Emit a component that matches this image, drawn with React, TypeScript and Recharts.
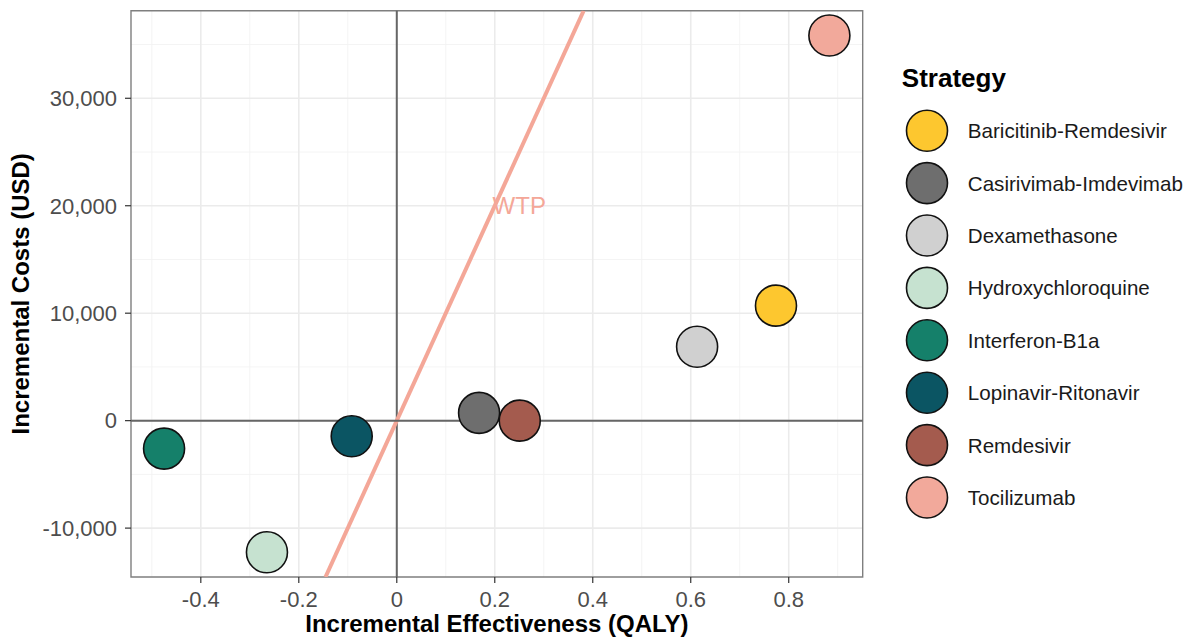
import React from "react";
import {
  ScatterChart,
  Scatter,
  XAxis,
  YAxis,
  CartesianGrid,
  ReferenceLine,
  ReferenceDot,
  ReferenceArea,
  Label,
} from "recharts";

const strategies = [
  "Baricitinib-Remdesivir",
  "Casirivimab-Imdevimab",
  "Dexamethasone",
  "Hydroxychloroquine",
  "Interferon-B1a",
  "Lopinavir-Ritonavir",
  "Remdesivir",
  "Tocilizumab",
];
const effectiveness = [0.774, 0.168, 0.613, -0.265, -0.475, -0.092, 0.251, 0.883];
const costs = [10700, 720, 6880, -12250, -2600, -1450, 0, 35840];
const colors = [
  "#FDC72F",
  "#6E6E6E",
  "#D0D0D0",
  "#C6E2D0",
  "#15806A",
  "#0B5563",
  "#A45B4E",
  "#F2A99B",
];

const xTicks = [-0.4, -0.2, 0, 0.2, 0.4, 0.6, 0.8];
const xMinor = [-0.5, -0.3, -0.1, 0.1, 0.3, 0.5, 0.7, 0.9];
const yTicks = [-10000, 0, 10000, 20000, 30000];
const yMinor = [-5000, 5000, 15000, 25000, 35000];
const xDomain = [-0.5425, 0.951];
const yDomain = [-14550, 38150];
const wtp = 100000;
const wtpLabel = { x: 0.25, y: 20000 };

const W = 1188;
const H = 639;
const PLOT = { left: 131, top: 10.7, right: 862.7, bottom: 577 };
const FONT = "'Liberation Sans', Arial, Helvetica, sans-serif";
const WTP_COLOR = "#F4A798";

const Bubble = (props: any) => (
  <circle cx={props.cx} cy={props.cy} r={20.5} fill={props.fill} stroke="#111" strokeWidth={1.6} />
);

const fmtCost = (v: number) => v.toLocaleString("en-US");

export default function App() {
  const wtpSegment = [
    { x: yDomain[0] / wtp, y: yDomain[0] },
    { x: yDomain[1] / wtp, y: yDomain[1] },
  ];
  const cx = (PLOT.left + PLOT.right) / 2;
  const cy = (PLOT.top + PLOT.bottom) / 2;

  return (
    <div style={{ position: "relative", width: W, height: H, fontFamily: FONT, background: "#fff" }}>
      <style>{"body{margin:0;overflow:hidden}"}</style>
      <ScatterChart
        width={W}
        height={H}
        margin={{ top: PLOT.top, right: W - PLOT.right, bottom: 0, left: 0 }}
        style={{ fontFamily: FONT }}
      >
        <CartesianGrid
          stroke="#F3F3F3"
          strokeWidth={0.9}
          verticalValues={xMinor}
          horizontalValues={yMinor}
        />
        <CartesianGrid
          stroke="#EBEBEB"
          strokeWidth={1.6}
          verticalValues={xTicks}
          horizontalValues={yTicks}
        />
        <XAxis
          type="number"
          dataKey="x"
          domain={xDomain}
          ticks={xTicks}
          allowDataOverflow
          height={H - PLOT.bottom}
          axisLine={false}
          tickLine={{ stroke: "#333", strokeWidth: 1.2 }}
          tickSize={6}
          tickMargin={8}
          tick={{ fill: "#4D4D4D", fontSize: 22 }}
          tickFormatter={(v: number) => String(v)}
        >
          <Label
            content={() => (
              <text x={cx} y={H - 7} textAnchor="middle" fontSize={24} fontWeight="bold" fill="#000">
                Incremental Effectiveness (QALY)
              </text>
            )}
          />
        </XAxis>
        <YAxis
          type="number"
          dataKey="y"
          domain={yDomain}
          ticks={yTicks}
          allowDataOverflow
          width={PLOT.left}
          axisLine={false}
          tickLine={{ stroke: "#333", strokeWidth: 1.2 }}
          tickSize={6}
          tickMargin={8}
          tick={{ fill: "#4D4D4D", fontSize: 22 }}
          tickFormatter={fmtCost}
        >
          <Label
            content={() => (
              <text
                x={0}
                y={0}
                transform={`translate(29, ${cy}) rotate(-90)`}
                textAnchor="middle"
                fontSize={24}
                fontWeight="bold"
                fill="#000"
              >
                Incremental Costs (USD)
              </text>
            )}
          />
        </YAxis>
        <ReferenceLine x={0} stroke="#666" strokeWidth={2} />
        <ReferenceLine segment={wtpSegment} stroke={WTP_COLOR} strokeWidth={4} ifOverflow="hidden" />
        <ReferenceLine y={0} stroke="#666" strokeWidth={2} />
        {strategies.map((name, i) => (
          <Scatter
            key={name}
            name={name}
            data={[{ x: effectiveness[i], y: costs[i] }]}
            fill={colors[i]}
            shape={Bubble}
            isAnimationActive={false}
          />
        ))}
        <ReferenceDot
          x={wtpLabel.x}
          y={wtpLabel.y}
          r={0}
          fill="none"
          stroke="none"
          label={{ value: "WTP", position: "center", fill: WTP_COLOR, fontSize: 24 }}
        />
        <ReferenceArea
          x1={xDomain[0]}
          x2={xDomain[1]}
          y1={yDomain[0]}
          y2={yDomain[1]}
          fill="none"
          stroke="#7F7F7F"
          strokeWidth={1.4}
        />
      </ScatterChart>
      <svg
        width={W - PLOT.right}
        height={H}
        style={{ position: "absolute", left: PLOT.right, top: 0, fontFamily: FONT }}
      >
        <text x={901.5 - PLOT.right} y={87} fontSize={26} fontWeight="bold" fill="#000">
          Strategy
        </text>
        {strategies.map((name, i) => {
          const y = 130.7 + i * 52.4;
          return (
            <g key={name}>
              <circle cx={926.7 - PLOT.right} cy={y} r={20.5} fill={colors[i]} stroke="#111" strokeWidth={1.6} />
              <text x={967.5 - PLOT.right} y={y} dy="0.36em" fontSize={20.6} fill="#1A1A1A">
                {name}
              </text>
            </g>
          );
        })}
      </svg>
    </div>
  );
}
